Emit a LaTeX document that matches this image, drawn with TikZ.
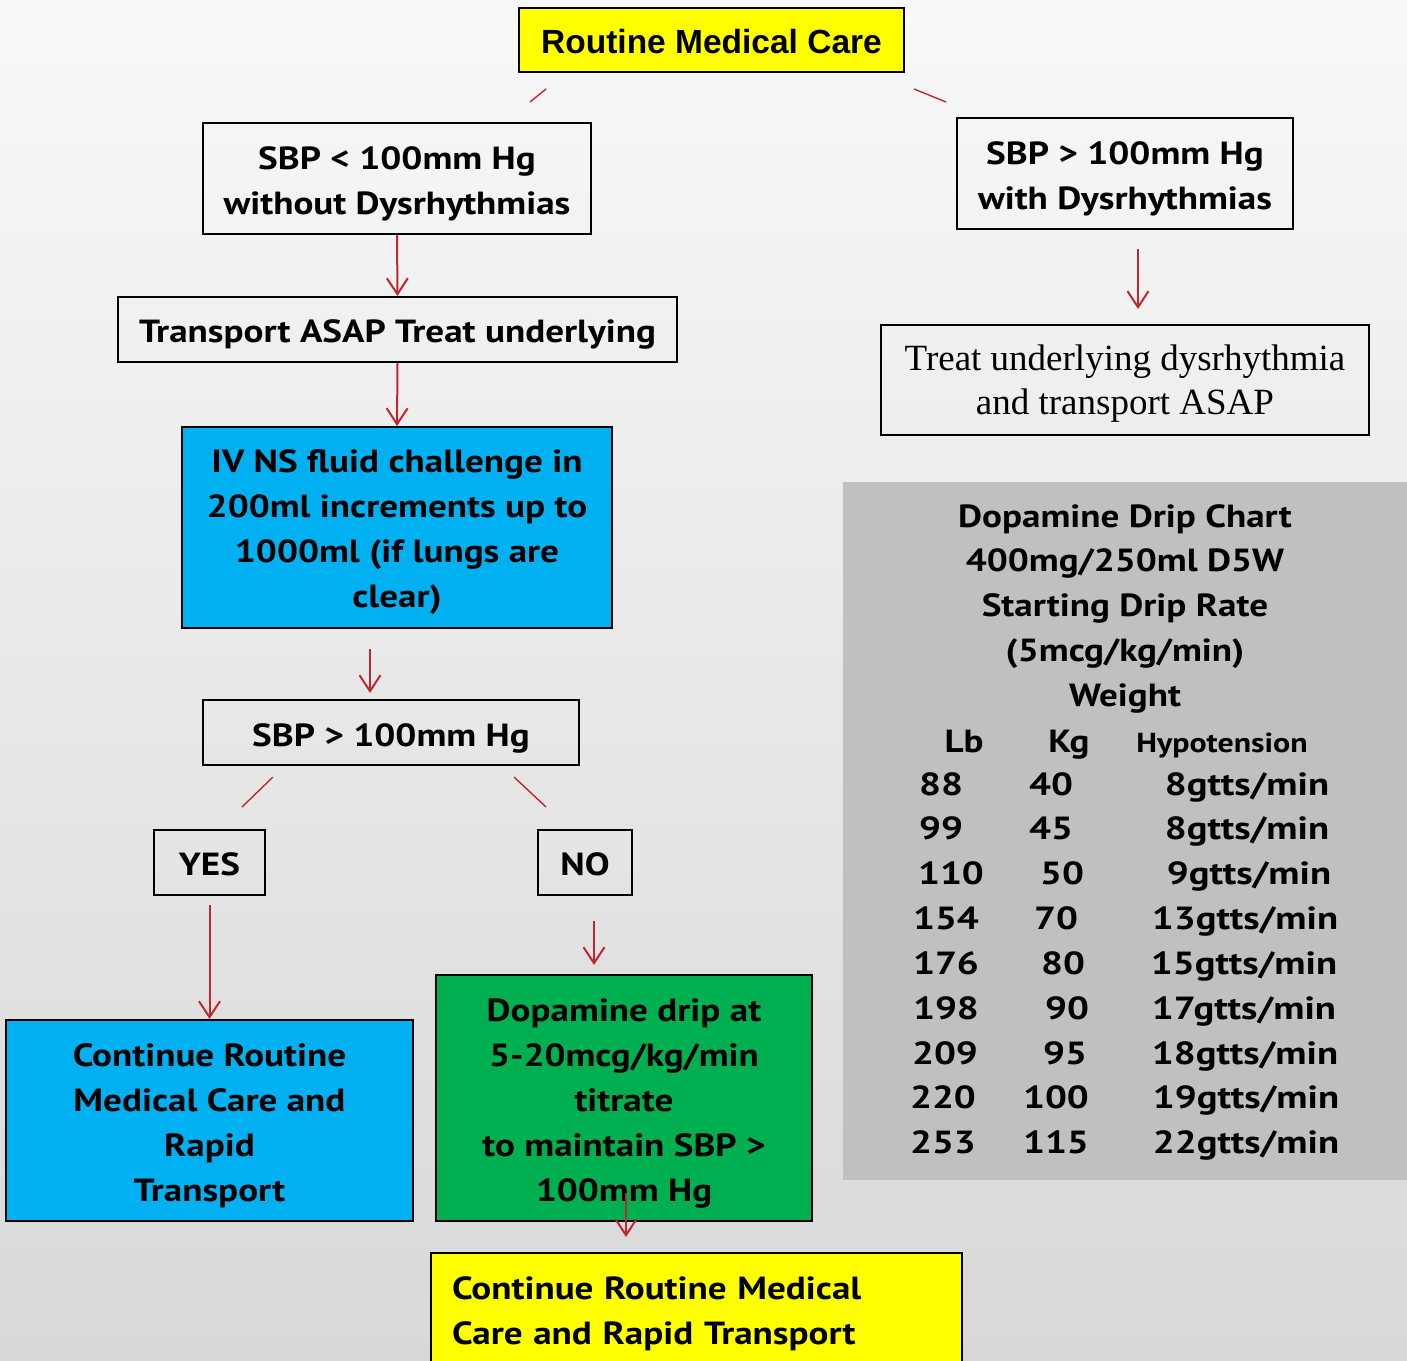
\documentclass[tikz,border=0pt]{standalone}
\usepackage{fontspec}
\setmainfont{PT Sans}[FakeStretch=1.16]
\newfontfamily\tblfam{PT Sans}[FakeStretch=1.21]
\newfontfamily\arialfont{Liberation Sans}
\newfontfamily\timesfont{Liberation Serif}
\usetikzlibrary{arrows.meta}

\definecolor{flowred}{RGB}{192,40,48}
\definecolor{cyanbox}{RGB}{0,176,240}
\definecolor{greenbox}{RGB}{0,176,80}
\definecolor{yellowbox}{RGB}{255,255,0}
\definecolor{panelgray}{RGB}{192,192,192}
\definecolor{bgtop}{RGB}{248,248,248}
\definecolor{bgbottom}{RGB}{216,216,216}

\newcommand\boxfont{\bfseries\fontsize{32}{45}\selectfont}
\newcommand\tblfont{\tblfam\bfseries\fontsize{32}{45}\selectfont}
% stacked lines, set a little lower than the geometric centre of the box
\newcommand\lines[3][c]{\raisebox{-#2}[\height][\depth]{\begin{tabular}{@{}#1@{}}#3\end{tabular}}}

\begin{document}
\begin{tikzpicture}[x=1pt,y=-1pt,
  box/.style={draw=black, line width=2pt, inner sep=0pt, font=\boxfont},
  tbl/.style={inner sep=0pt, font=\tblfont, anchor=base},
  arr/.style={draw=flowred, line width=2pt, -{Straight Barb[length=16pt,width=21pt,line width=2pt]}},
  link/.style={draw=flowred, line width=1.4pt}]

% page and background
\useasboundingbox (0,0) rectangle (1407,1360);
\clip (0,0) rectangle (1407,1360);
\shade[top color=bgtop, bottom color=bgbottom] (0,0) rectangle (1407,1360);

% drip chart panel
\fill[panelgray] (843,482) rectangle (1407,1180);

% flow boxes
\node[box, minimum width=385pt, minimum height=64pt, fill=yellowbox,
      font=\arialfont\bfseries\fontsize{33.5}{40}\selectfont] (rmc) at (711.5,40) {\lines{5pt}{Routine Medical Care}};
\node[box, minimum width=388pt, minimum height=111pt] (sbpl) at (397,178.5) {\lines{4.2pt}{SBP < 100mm Hg\\without Dysrhythmias}};
\node[box, minimum width=559pt, minimum height=65pt] (tasap) at (397.5,329.5) {\lines{3.7pt}{Transport ASAP Treat underlying}};
\node[box, fill=cyanbox, minimum width=430pt, minimum height=201pt] (ivns) at (397,527.5)
  {\lines{3.4pt}{IV NS fluid challenge in\\200ml increments up to\\1000ml (if lungs are\\clear)}};
\node[box, minimum width=376pt, minimum height=65pt] (sbpg) at (391,732.5) {\lines{4.5pt}{SBP > 100mm Hg}};
\node[box, minimum width=111pt, minimum height=65pt] (yes) at (209.5,862.5) {\lines{3.7pt}{YES}};
\node[box, minimum width=94pt, minimum height=65pt] (no) at (585,862.5) {\lines{3.7pt}{NO}};
\node[box, fill=cyanbox, minimum width=407pt, minimum height=201pt] (crm) at (209.5,1120.5)
  {\lines{4.2pt}{Continue Routine\\Medical Care and\\Rapid\\Transport}};
\node[box, fill=greenbox, minimum width=376pt, minimum height=246pt] (dop) at (624,1098)
  {\lines{4.2pt}{Dopamine drip at\\5-20mcg/kg/min\\titrate\\to maintain SBP >\\100mm Hg}};
\node[box, fill=yellowbox, minimum width=531pt, minimum height=116pt, text width=489pt, align=left] (fin) at (696.5,1311)
  {\lines[l]{1.8pt}{Continue Routine Medical\\Care and Rapid Transport}};
\node[box, minimum width=336pt, minimum height=111pt] (sbpd) at (1125,173.5) {\lines{4.2pt}{SBP > 100mm Hg\\with Dysrhythmias}};
\node[box, minimum width=488pt, minimum height=110pt, font=\timesfont\fontsize{37}{44}\selectfont] (treat) at (1125,380)
  {\lines{3.2pt}{Treat underlying dysrhythmia\\and transport ASAP}};

% drip chart text
\foreach \t [count=\i] in {Dopamine Drip Chart, 400mg/250ml D5W, Starting Drip Rate, (5mcg/kg/min), Weight}
  \node[tbl, font=\boxfont] (title\i) at (1125,{527+44.75*(\i-1)}) {\t};
\node[tbl, font=\boxfont] (hlb) at (964,752) {Lb};
\node[tbl, font=\boxfont] (hkg) at (1069,752) {Kg};
\node[tbl, font=\bfseries\fontsize{27.5}{35}\selectfont] (hhyp) at (1222,752) {Hypotension};
\foreach \lb/\lx/\kg/\kx/\rt/\rx [count=\i] in {
    88/941/40/1051/8/1247, 99/941/45/1051/8/1247, 110/951/50/1062/9/1249,
    154/946/70/1056/13/1245, 176/946/80/1063/15/1244, 198/946/90/1067/17/1244,
    209/945/95/1065/18/1245, 220/943/100/1056/19/1246, 253/943/115/1056/22/1246} {
  \node[tbl] (lb\i) at (\lx,{795+44.85*(\i-1)}) {\lb};
  \node[tbl] (kg\i) at (\kx,{795+44.85*(\i-1)}) {\kg};
  \node[tbl] (rate\i) at (\rx,{795+44.85*(\i-1)}) {\rt gtts/min};
}

% connectors
\draw[link] ([shift={(-165.5,16)}]rmc.south) -- ([shift={(133,-20)}]sbpl.north);
\draw[link] ([shift={(202.5,16)}]rmc.south) -- ([shift={(-179,-15)}]sbpd.north);
\draw[arr] (sbpl.south) -- (tasap.north);
\draw[arr] (tasap.south) -- (ivns.north);
\draw[arr] ([shift={(-27,20)}]ivns.south) -- ([shift={(-21,-6)}]sbpg.north);
\draw[link] ([shift={(-118,11)}]sbpg.south) -- ([shift={(32.5,-22)}]yes.north);
\draw[link] ([shift={(123,11)}]sbpg.south) -- ([shift={(-39,-22)}]no.north);
\draw[arr] ([shift={(0,9)}]yes.south) -- (crm.north);
\draw[arr] ([shift={(9,25)}]no.south) -- ([shift={(-30,-9)}]dop.north);
\draw[arr] ([shift={(2,-29)}]dop.south) -- ([shift={(-70.5,-15)}]fin.north);
\draw[arr] ([shift={(13,19)}]sbpd.south) -- ([shift={(13,-15)}]treat.north);
\end{tikzpicture}
\end{document}
